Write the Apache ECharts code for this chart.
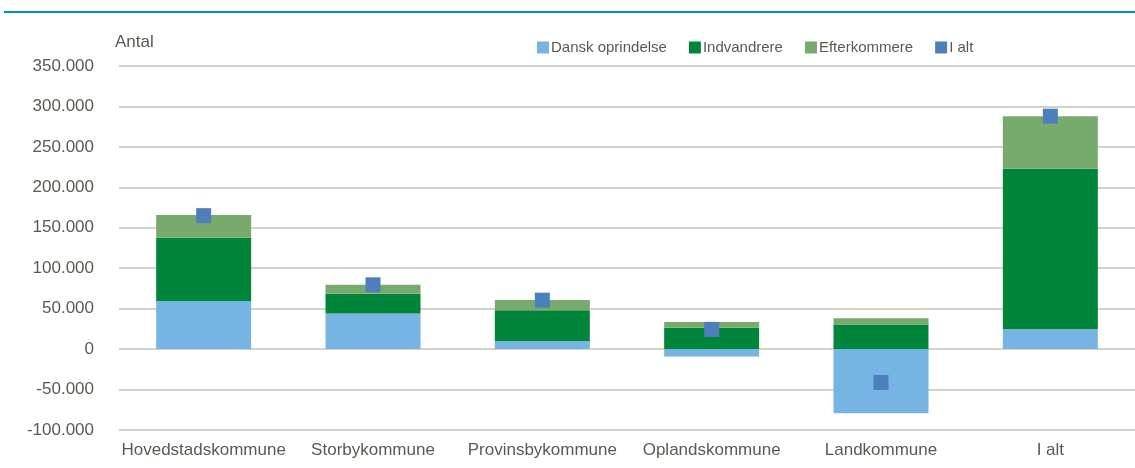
<!DOCTYPE html>
<html>
<head>
<meta charset="utf-8">
<title>Befolkning efter kommunetype</title>
<script src="https://cdn.jsdelivr.net/npm/echarts@6/dist/echarts.min.js"></script>
<style>
  html, body { margin: 0; padding: 0; background: #fff; }
  #main { width: 1135px; height: 468px; }
</style>
</head>
<body>
<div id="main"></div>
<script>
// data
var categories = ['Hovedstadskommune', 'Storbykommune', 'Provinsbykommune', 'Oplandskommune', 'Landkommune', 'I alt'];
var danskOprindelse = [59400, 44100, 10000, -9000, -79200, 25000];
var indvandrere = [78200, 24300, 38000, 26300, 30500, 198000];
var efterkommere = [28100, 11100, 12600, 7100, 7500, 65000];
var iAlt = [165000, 79500, 60500, 24400, -41200, 288000];

var seriesNames = ['Dansk oprindelse', 'Indvandrere', 'Efterkommere', 'I alt'];
var colors = ['#76b4e3', '#00853b', '#78aa6e', '#4e7fbd'];

var font = '"Liberation Sans", Arial, sans-serif';
var textColor = '#5a5a50';

function fmt(v) {
  // danish thousand separator
  var s = Math.abs(v).toString().replace(/\B(?=(\d{3})+(?!\d))/g, '.');
  return (v < 0 ? '-' : '') + s;
}

var chart = echarts.init(document.getElementById('main'));

var option = {
  animation: false,
  color: colors,
  textStyle: { fontFamily: font },
  grid: { left: 119, right: -10, top: 66, bottom: 38 },
  legend: {
    left: 532,
    top: 35,
    itemWidth: 12,
    itemHeight: 12,
    itemGap: 22,
    icon: 'rect',
    data: seriesNames,
    textStyle: { fontSize: 15, color: textColor, fontFamily: font, padding: [0, 0, 0, -3] }
  },
  xAxis: {
    type: 'category',
    data: categories,
    axisLine: { show: false, onZero: false },
    axisTick: { show: false },
    axisLabel: { interval: 0, fontSize: 17, color: textColor, margin: 12, fontFamily: font }
  },
  yAxis: {
    type: 'value',
    min: -100000,
    max: 350000,
    interval: 50000,
    name: 'Antal',
    nameLocation: 'end',
    nameGap: 15,
    nameTextStyle: { fontSize: 17, color: textColor, align: 'left', padding: [0, 0, 0, -4], fontFamily: font },
    axisLine: { show: false },
    axisTick: { show: false },
    axisLabel: { fontSize: 17, color: textColor, margin: 25, formatter: fmt, fontFamily: font },
    splitLine: { lineStyle: { color: '#c4c4b8', width: 1.5 } }
  },
  graphic: [
    {
      type: 'line',
      shape: { x1: 4, y1: 12, x2: 1135, y2: 12 },
      style: { stroke: '#0090cc', lineWidth: 2 }
    }
  ],
  series: [
    { name: seriesNames[0], type: 'bar', stack: 'total', barWidth: 95, data: danskOprindelse },
    { name: seriesNames[1], type: 'bar', stack: 'total', barWidth: 95, data: indvandrere },
    { name: seriesNames[2], type: 'bar', stack: 'total', barWidth: 95, data: efterkommere },
    {
      name: seriesNames[3], type: 'scatter', symbol: 'rect', symbolSize: 15, z: 5,
      itemStyle: { opacity: 1 },
      data: iAlt
    }
  ]
};

chart.setOption(option);
</script>
</body>
</html>
